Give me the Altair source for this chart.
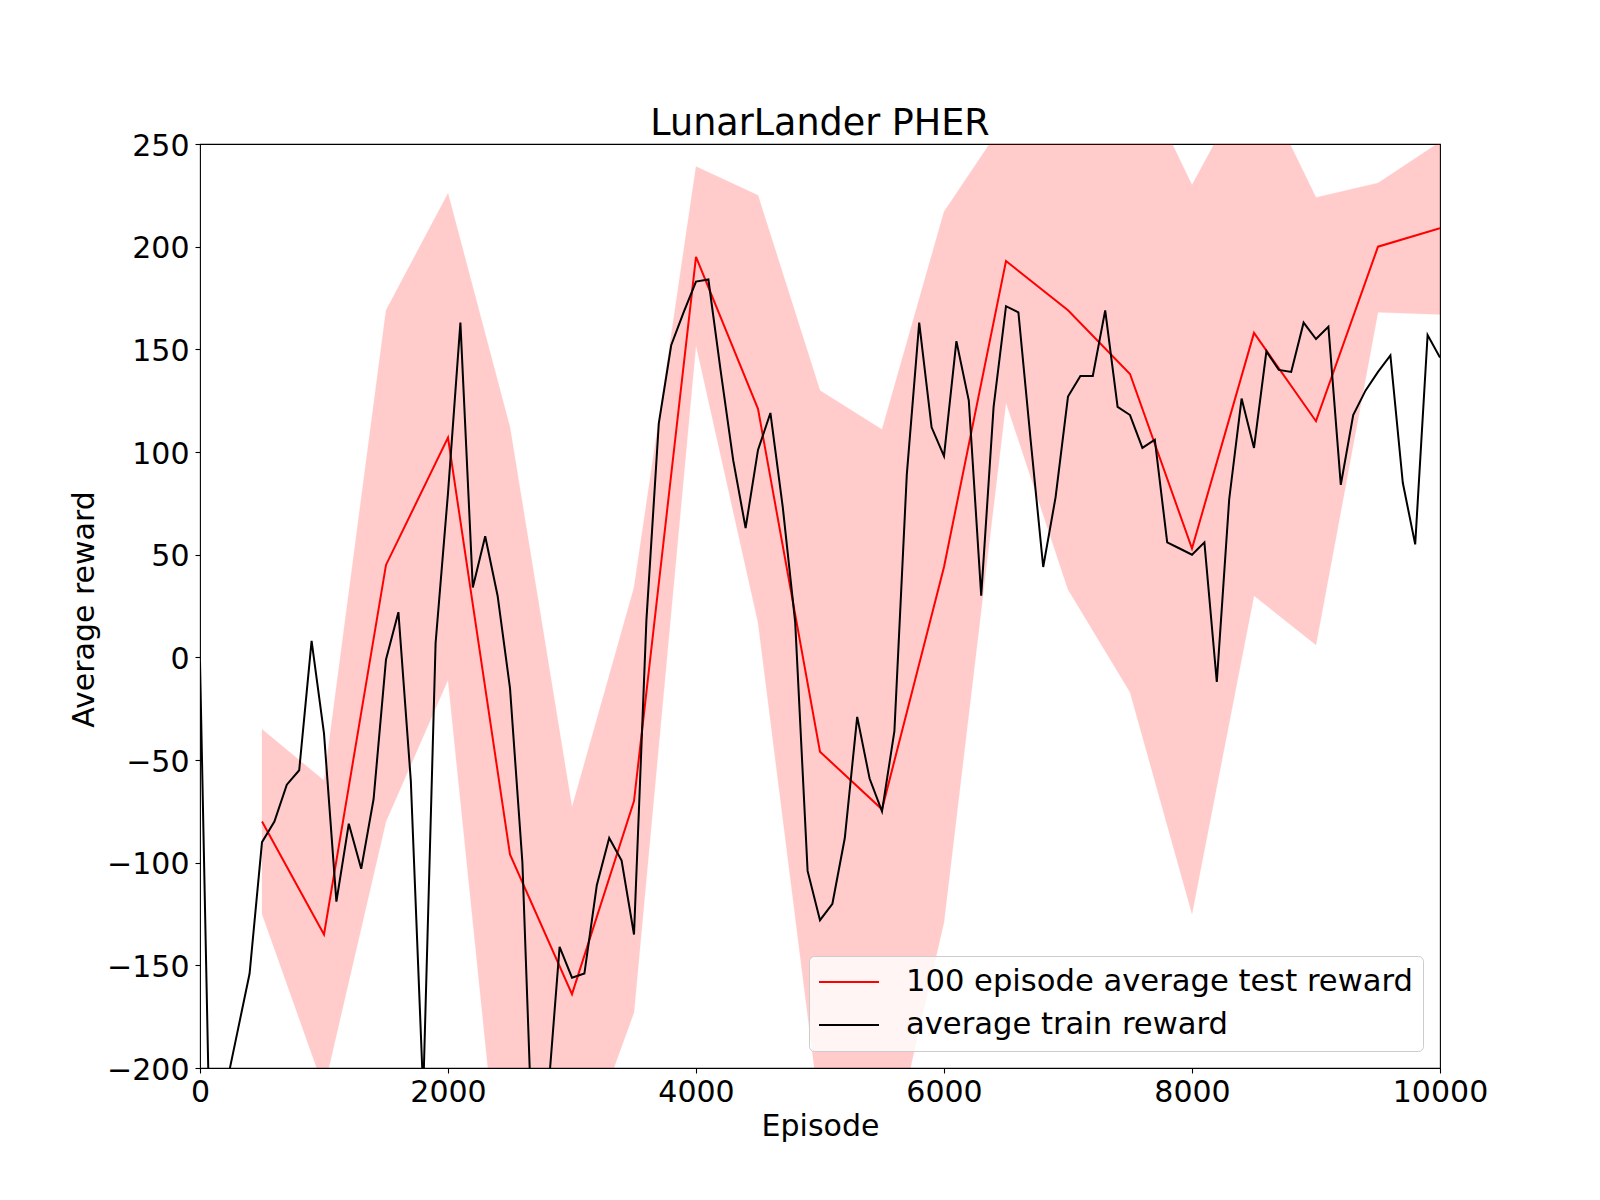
import altair as alt
import pandas as pd

# ---- data ----
test_episodes = [500, 1000, 1500, 2000, 2500, 3000, 3500, 4000, 4500, 5000,
                 5500, 6000, 6500, 7000, 7500, 8000, 8500, 9000, 9500, 10000]
test_mean = [-80, -135, 45, 107, -96, -164, -70, 195, 121, -46,
             -74, 44, 193, 169, 138, 53, 158, 115, 200, 209]
test_lower = [-125, -210, -80, -11, -305, -256, -173, 152, 17, -222,
              -260, -129, 124, 33, -17, -125, 30, 6, 168, 167]
test_upper = [-35, -60, 169, 226, 112, -73, 34, 239, 225, 130,
              111, 217, 262, 305, 293, 230, 286, 224, 231, 251]

train_episodes = list(range(0, 10001, 100))
train_reward = [
    -2, -300, -212, -183, -154, -90, -80, -62, -55, 8,
    -37, -119, -81, -103, -69, -1, 22, -60, -212, 7,
    80, 163, 34, 59, 30, -15, -100, -270, -218, -141,
    -156, -154, -111, -88, -99, -135, 18, 114, 152, 168,
    183, 184, 139, 96, 63, 101, 119, 73, 17, -104,
    -128, -120, -88, -29, -59, -75, -36, 89, 163, 112,
    98, 154, 125, 30, 122, 171, 168, 105, 44, 78,
    127, 137, 137, 169, 122, 118, 102, 106, 56, 53,
    50, 56, -12, 77, 126, 102, 149, 140, 139, 163,
    155, 161, 84, 118, 130, 139, 147, 85, 55, 157,
    146,
]

series_names = ["100 episode average test reward", "average train reward"]
series_colors = ["#ff0000", "#000000"]

x_ticks = [0, 2000, 4000, 6000, 8000, 10000]
y_ticks = [-200, -150, -100, -50, 0, 50, 100, 150, 200, 250]

test_df = pd.DataFrame({
    "episode": test_episodes,
    "reward": test_mean,
    "lower": test_lower,
    "upper": test_upper,
    "series": series_names[0],
})
train_df = pd.DataFrame({
    "episode": train_episodes,
    "reward": train_reward,
    "series": series_names[1],
})

FONT = "DejaVu Sans"

x_scale = alt.Scale(domain=[0, 10000], nice=False, zero=False)
y_scale = alt.Scale(domain=[-200, 250], nice=False, zero=False)

x_axis = alt.Axis(
    values=x_ticks, format="d", title="Episode",
    titleX=620, titleY=67, titleBaseline="alphabetic", titleAlign="center",
    titleAngle=0, labelPadding=4, labelFlush=False,
    labelExpr="replace(datum.label, '-', '\u2212')",
)
y_axis = alt.Axis(
    values=y_ticks, format="d", title="Average reward",
    titleX=-107, titleY=465, titleBaseline="alphabetic", titleAlign="center",
    titleAngle=270, labelPadding=6, labelOffset=2, labelFlush=False,
    labelExpr="replace(datum.label, '-', '\u2212')",
)

color = alt.Color(
    "series:N",
    scale=alt.Scale(domain=series_names, range=series_colors),
    legend=alt.Legend(
        orient="none", legendX=609, legendY=812, title=None,
        padding=10, fillColor="rgba(255,255,255,0.8)",
        strokeColor="#cccccc", cornerRadius=5,
        symbolType="M-2,0L2,0", symbolSize=900, symbolStrokeWidth=2,
        symbolOffset=14, labelOffset=41, labelFontSize=30.6, labelFont=FONT,
        labelColor="black", rowPadding=11, labelLimit=0,
    ),
)

band = alt.Chart(test_df).mark_area(
    clip=True, color="#ff0000", opacity=0.2,
    stroke="#ff0000", strokeWidth=1, strokeOpacity=0.2,
).encode(
    x=alt.X("episode:Q", scale=x_scale, axis=x_axis),
    y=alt.Y("lower:Q", scale=y_scale, axis=y_axis),
    y2="upper:Q",
)

test_line = alt.Chart(test_df).mark_line(clip=True, strokeWidth=2).encode(
    x=alt.X("episode:Q", scale=x_scale),
    y=alt.Y("reward:Q", scale=y_scale),
    color=color,
)

train_line = alt.Chart(train_df).mark_line(clip=True, strokeWidth=2).encode(
    x=alt.X("episode:Q", scale=x_scale),
    y=alt.Y("reward:Q", scale=y_scale),
    color=color,
)

chart = alt.layer(band, test_line, train_line).properties(
    width=1240,
    height=924,
    title=alt.TitleParams(
        "LunarLander PHER", fontSize=36.5, font=FONT, fontWeight="normal",
        color="black", baseline="alphabetic", offset=10, dy=50,
        anchor="middle",
    ),
    padding={"left": 192, "top": 136, "right": 152, "bottom": 124},
    autosize=alt.AutoSizeParams(type="none"),
).configure_view(
    stroke="black", strokeWidth=1.1,
).configure_axis(
    domain=False, grid=False, ticks=True, tickSize=5, tickWidth=1.1,
    tickColor="black", labelFont=FONT, labelFontSize=30, labelColor="black",
    titleFont=FONT, titleFontSize=30, titleFontWeight="normal",
    titleColor="black",
)

chart.save("out.html", embed_options={"renderer": "svg", "actions": False})
